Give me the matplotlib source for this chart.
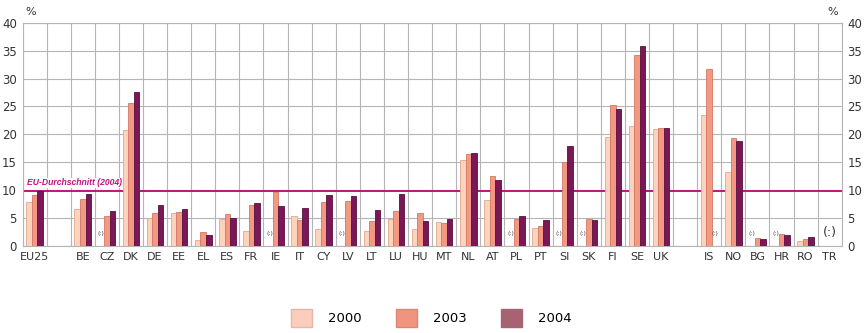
import numpy as np
import matplotlib.pyplot as plt
from matplotlib.patches import Patch

# Country codes; empty strings are spacer columns
countries = ["EU25", "", "BE", "CZ", "DK", "DE", "EE", "EL", "ES", "FR", "IE", "IT",
             "CY", "LV", "LT", "LU", "HU", "MT", "NL", "AT", "PL", "PT", "SI", "SK",
             "FI", "SE", "UK", "", "IS", "NO", "BG", "HR", "RO", "TR"]

nan = np.nan
y2000 = [7.9, nan, 6.7, nan, 20.8, 5.1, 5.9, 1.1, 4.9, 2.7, nan, 5.4,
         3.0, nan, 2.7, 4.8, 3.0, 4.4, 15.5, 8.2, nan, 3.3, nan, nan,
         19.5, 21.5, 20.9, nan, 23.5, 13.2, nan, nan, 0.9, nan]
y2003 = [9.1, nan, 8.4, 5.4, 25.7, 5.9, 6.1, 2.6, 5.7, 7.3, 9.6, 4.7,
         7.9, 8.1, 4.5, 6.3, 5.9, 4.1, 16.5, 12.5, 4.9, 3.6, 15.0, 4.8,
         25.3, 34.2, 21.2, nan, 31.7, 19.4, 1.4, 2.1, 1.2, nan]
y2004 = [9.9, nan, 9.4, 6.2, 27.6, 7.3, 6.6, 1.9, 5.0, 7.8, 7.1, 6.8,
         9.2, 9.0, 6.5, 9.3, 4.5, 4.8, 16.7, 11.9, 5.4, 4.7, 17.9, 4.6,
         24.5, 35.8, 21.1, nan, nan, 18.8, 1.3, 1.9, 1.6, nan]
eu_avg_2004 = 9.9

# missing values marked "(:)"  -> (column, series index)
missing = [("CZ", 0), ("IE", 0), ("LV", 0), ("PL", 0), ("SI", 0), ("SK", 0),
           ("IS", 2), ("BG", 0), ("HR", 0)]

c2000, c2003, c2004 = "#fdd3bb", "#f29883", "#7a1756"
e2000, e2003, e2004 = "#e0a98e", "#d27866", "#5a0f3e"

fig = plt.figure(figsize=(8.66, 3.33), dpi=100)
ax = fig.add_axes([0.026, 0.261, 0.946, 0.671])

x = np.arange(len(countries))
w = 0.23
ax.bar(x - w, y2000, w, color=c2000, edgecolor=e2000, linewidth=0.6, zorder=3)
ax.bar(x, y2003, w, color=c2003, edgecolor=e2003, linewidth=0.6, zorder=3)
ax.bar(x + w, y2004, w, color=c2004, edgecolor=e2004, linewidth=0.6, zorder=3)

for code, k in missing:
    i = countries.index(code)
    ax.text(i + (k - 1) * w, 2.3, "(:)", fontsize=4.5, ha="center", va="center",
            color="#444444", zorder=4)
ax.text(countries.index("TR"), 2.4, "(:)", fontsize=9, ha="center", va="center",
        color="#333333", zorder=4)

# EU average line
ax.axhline(eu_avg_2004, color="#c0157c", linewidth=1.4, zorder=2)
ax.text(-0.3, eu_avg_2004 + 0.6, "EU-Durchschnitt (2004)", fontsize=6.2, style="italic",
        fontweight="bold", family="Liberation Sans", color="#c0157c", ha="left",
        va="bottom", zorder=2.5,
        bbox=dict(facecolor="white", edgecolor="none", pad=0.3))

ax.set_xlim(-0.5, len(countries) - 0.5)
ax.set_ylim(0, 40)
ax.set_yticks(np.arange(0, 41, 5))
ax.set_xticks(x)
ax.set_xticklabels(countries)
ax.set_xticks(np.arange(-0.5, len(countries), 1), minor=True)
ax.grid(which="minor", axis="x", color="#b5b5b5", linewidth=0.8, zorder=0)
ax.grid(which="major", axis="y", color="#b5b5b5", linewidth=0.8, zorder=0)
ax.tick_params(which="both", length=0)
ax.tick_params(axis="x", labelsize=8, colors="#333333", pad=4)
ax.tick_params(axis="y", labelsize=8.5, colors="#333333", pad=4,
               labelright=True, right=True)
for s in ax.spines.values():
    s.set_color("#b5b5b5")
    s.set_linewidth(0.8)

fig.text(0.035, 0.965, "%", fontsize=8, color="#333333", ha="center", va="center")
fig.text(0.962, 0.965, "%", fontsize=8, color="#333333", ha="center", va="center")

handles = [Patch(facecolor="#fbcdbd", edgecolor="#e8b5a8"),
           Patch(facecolor="#f09480", edgecolor="#e08570"),
           Patch(facecolor="#a86373", edgecolor="#a86373")]
fig.legend(handles, ["2000", "2003", "2004"], loc="center", bbox_to_anchor=(0.498, 0.045),
           ncol=3, frameon=False, fontsize=9.5, handlelength=1.6, handleheight=1.7,
           handletextpad=1.2, columnspacing=2.6)

fig.savefig("out.png", dpi=100)
